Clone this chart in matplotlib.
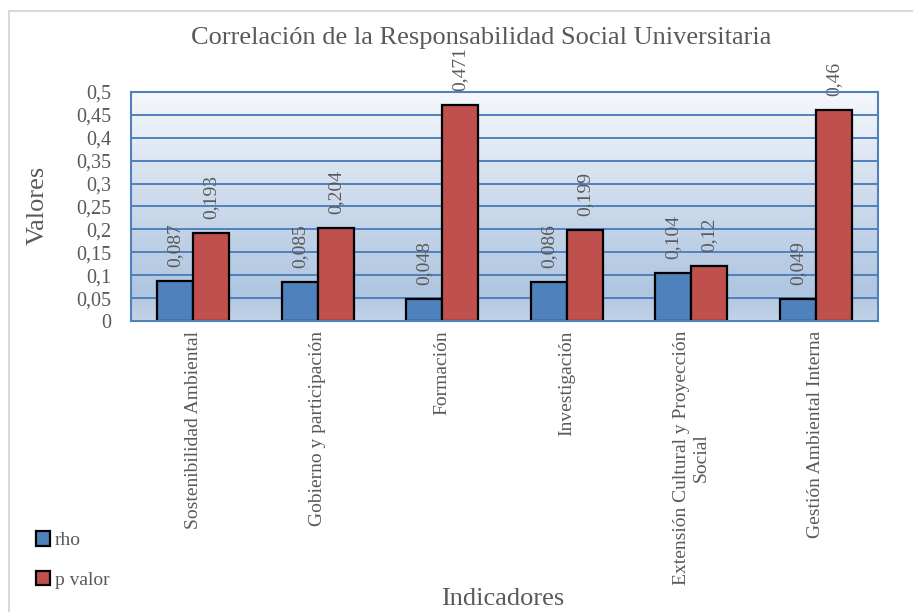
import numpy as np
import matplotlib
matplotlib.use("Agg")
import matplotlib.pyplot as plt
from matplotlib.colors import LinearSegmentedColormap
from matplotlib.patches import Rectangle
from matplotlib.ticker import MultipleLocator, FuncFormatter

categories = ["Sostenibilidad Ambiental", "Gobierno y participación", "Formación",
              "Investigación", "Extensión Cultural y Proyección\nSocial",
              "Gestión Ambiental Interna"]
rho = [0.087, 0.085, 0.048, 0.086, 0.104, 0.049]
p_valor = [0.193, 0.204, 0.471, 0.199, 0.12, 0.46]
series_names = ["rho", "p valor"]

W, H = 913, 612
plt.rcParams['font.family'] = ['Liberation Serif', 'DejaVu Serif']
gray = "#595959"
blue_line = "#4F81BD"


def coma(v, pos=None):
    s = ("%.3f" % v).rstrip("0").rstrip(".")
    return s.replace(".", ",")


fig = plt.figure(figsize=(W / 100, H / 100), dpi=100)
ax = fig.add_axes([131 / W, 1 - 321 / H, (878 - 131) / W, (321 - 92) / H])

# plot area background: vertical gradient
grad = LinearSegmentedColormap.from_list(
    "bg", [(0.0, "#C4D4E9"), (0.12, "#AFC5E0"), (0.5, "#CBD9EB"), (1.0, "#F5F8FC")])
ax.imshow(np.linspace(0, 1, 256).reshape(-1, 1), cmap=grad, origin="lower",
          extent=(-0.5, 5.5, 0, 0.5), aspect="auto", zorder=0)

x = np.arange(len(categories))
w = 0.29
b1 = ax.bar(x - w / 2, rho, w, color="#4F81BD", edgecolor="black", linewidth=1.6,
            zorder=3, label=series_names[0])
b2 = ax.bar(x + w / 2, p_valor, w, color="#C0504D", edgecolor="black", linewidth=1.6,
            zorder=3, label=series_names[1])

for bars, vals in ((b1, rho), (b2, p_valor)):
    ax.bar_label(bars, labels=[coma(v) for v in vals], rotation=90, padding=10,
                 fontsize=14, color=gray)

ax.set_xlim(-0.5, 5.5)
ax.set_ylim(0, 0.5)
ax.yaxis.set_major_locator(MultipleLocator(0.05))
ax.yaxis.set_major_formatter(FuncFormatter(coma))
ax.grid(axis="y", color=blue_line, linewidth=1.4, zorder=1)
ax.set_axisbelow(False)
for s in ax.spines.values():
    s.set_color(blue_line)
    s.set_linewidth(1.5)
    s.set_zorder(4)

ax.set_xticks(x)
ax.set_xticklabels(categories, rotation=90, va="top", ha="center",
                   multialignment="center", fontsize=14, color=gray)
ax.tick_params(axis="x", length=0, pad=7)
ax.tick_params(axis="y", length=0, pad=14, labelsize=14.5, labelcolor=gray)

fig.text(481 / W, 1 - 44 / H, "Correlación de la Responsabilidad Social Universitaria",
         ha="center", va="baseline", fontsize=19, color=gray)
fig.text(38 / W, 1 - 205 / H, "Valores", rotation=90, ha="center", va="center",
         fontsize=19, color=gray)
fig.text(503 / W, 2 / H, "Indicadores", ha="center", va="bottom",
         fontsize=19, color=gray)

fig.legend(handles=[b1, b2], labels=series_names, loc="center left",
           bbox_to_anchor=(18 / W, 1 - 560 / H), frameon=False, fontsize=14,
           labelcolor=gray, handlelength=0.75, handleheight=0.75,
           handletextpad=0.25, labelspacing=1.1)

# chart area border
fig.patches.append(Rectangle((9 / W, -0.1), 1.0, 1.1 - 11 / H, transform=fig.transFigure,
                             fill=False, edgecolor="#D9D9D9", linewidth=1.5))

fig.savefig("out.png", dpi=100)
